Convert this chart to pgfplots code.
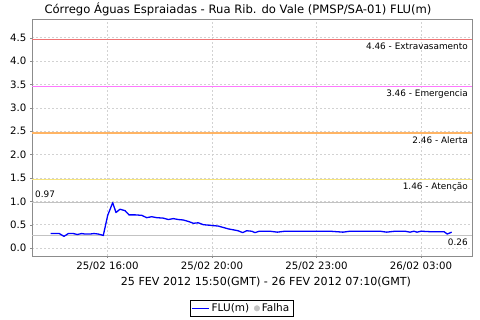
\documentclass[border=0pt]{standalone}
\usepackage{pgfplots}
\pgfplotsset{compat=1.18}
\usepackage{fontspec}
\setmainfont{DejaVu Sans}
\definecolor{gridc}{RGB}{210,210,210}
\definecolor{lineRed}{RGB}{238,115,115}
\definecolor{lineMag}{RGB}{255,120,255}
\definecolor{lineOra}{RGB}{255,180,100}
\definecolor{lineYel}{RGB}{246,228,125}
\definecolor{refc}{RGB}{195,195,195}
\definecolor{axc}{RGB}{140,140,140}
\begin{document}
\begin{tikzpicture}
\fill[white] (0,0) rectangle (480pt,320pt);
\path[use as bounding box] (0,0) rectangle (480pt,320pt);
\begin{axis}[
  at={(32pt,64pt)}, anchor=south west,
  scale only axis, width=440pt, height=237pt,
  xmin=32, xmax=472, ymin=-0.17, ymax=4.9,
  xtick={107.5,212,316.5,421},
  xticklabels={25/02 16:00,25/02 20:00,25/02 23:00,26/02 03:00},
  ytick={0,0.5,1,1.5,2,2.5,3,3.5,4,4.5},
  yticklabel style={/pgf/number format/.cd,fixed,fixed zerofill,precision=1,assume math mode=true},
  ticklabel style={font=\fontsize{10.2pt}{11pt}\selectfont},
  grid=major,
  major grid style={gridc, dash pattern=on 2pt off 2pt, line width=0.5pt},
  axis line style={axc},
  tick align=outside, major tick length=2pt,
  tick style={axc},
  xtick pos=bottom, ytick pos=left,
  legend style={at={(0.4757,-0.2207)}, anchor=center, draw=black, legend columns=2,
    font=\fontsize{10.5pt}{11pt}\selectfont, inner sep=1.5pt,
    /tikz/every even column/.append style={column sep=3pt}},
  legend cell align=left,
]
\addplot[color=lineRed, line width=1.4pt, forget plot] coordinates {(32,4.46) (472,4.46)};
\addplot[color=lineMag, line width=1.1pt, forget plot] coordinates {(32,3.46) (472,3.46)};
\addplot[color=lineOra, line width=1.4pt, forget plot] coordinates {(32,2.46) (472,2.46)};
\addplot[color=lineYel, line width=1.4pt, forget plot] coordinates {(32,1.46) (472,1.46)};
\addplot[color=refc, line width=1pt, forget plot] coordinates {(32,0.97) (472,0.97)};
\addplot[color=refc, line width=1pt, forget plot] coordinates {(32,0.26) (472,0.26)};
\addplot[color=blue, line width=1.3pt, line join=round] coordinates {
(50.7,0.31) (59.3,0.31) (64,0.25) (68.3,0.31) (73.3,0.31) (77.3,0.29) (81.7,0.31)
(85,0.30) (90,0.30) (94,0.31) (98.3,0.30) (103.3,0.27) (107.7,0.70) (112.7,0.97)
(116,0.76) (120,0.83) (125,0.80) (129,0.71) (135,0.71) (141.7,0.70) (146.7,0.65)
(151.7,0.67) (156.7,0.65) (163.3,0.64) (168.3,0.61) (173.3,0.63) (178.3,0.61)
(183.3,0.60) (188.3,0.57) (193.3,0.53) (198.3,0.54) (203.3,0.50) (208.3,0.49)
(213.3,0.48) (218.3,0.47) (223.3,0.44) (228.3,0.41) (233.3,0.39) (238,0.37)
(242.7,0.33) (246.7,0.37) (251.7,0.36) (255,0.33) (259.3,0.36) (270,0.36)
(277.3,0.34) (285,0.36) (300,0.36) (316,0.36) (330,0.36) (343,0.34) (350,0.36)
(365,0.36) (380,0.36) (386.7,0.34) (395,0.36) (405,0.36) (410,0.34) (414,0.36)
(417,0.34) (421,0.36) (430,0.35) (444,0.35) (447.3,0.30) (451.7,0.34)
};
\addlegendentry{FLU(m)}
\addlegendimage{only marks, mark=*, mark size=2.8pt, color=refc}
\addlegendentry{Falha}
\end{axis}
\node[anchor=center, font=\fontsize{11.6pt}{13pt}\selectfont] at (238pt,311pt) {Córrego Águas Espraiadas - Rua Rib. do Vale (PMSP/SA-01) FLU(m)};
\node[anchor=center, font=\fontsize{11.1pt}{13pt}\selectfont] at (266pt,38pt) {25 FEV 2012 15:50(GMT) - 26 FEV 2012 07:10(GMT)};
\begin{scope}[every node/.style={font=\fontsize{8.9pt}{10pt}\selectfont, inner sep=0pt}]
\node[anchor=east] at (468pt,273.3pt) {4.46 - Extravasamento};
\node[anchor=east] at (468pt,225.7pt) {3.46 - Emergencia};
\node[anchor=east] at (468pt,180pt) {2.46 - Alerta};
\node[anchor=east] at (468pt,132.7pt) {1.46 - Atenção};
\node[anchor=west] at (35pt,126pt) {0.97};
\node[anchor=east] at (468pt,77.3pt) {0.26};
\end{scope}
\end{tikzpicture}
\end{document}
